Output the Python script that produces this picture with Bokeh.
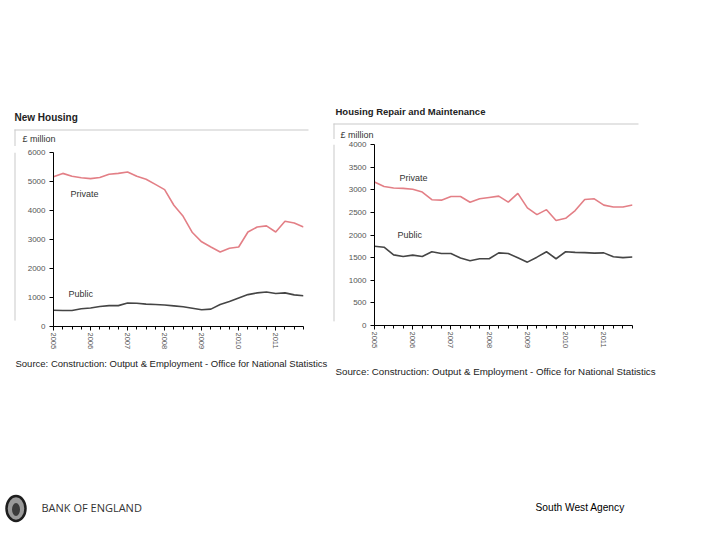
from bokeh.plotting import figure
from bokeh.layouts import row, column
from bokeh.models import Label, FixedTicker, Range1d
from bokeh.embed import file_html
from bokeh.resources import INLINE

# ---------------- data ----------------
quarters = [2005.0, 2005.25, 2005.5, 2005.75, 2006.0, 2006.25, 2006.5, 2006.75,
            2007.0, 2007.25, 2007.5, 2007.75, 2008.0, 2008.25, 2008.5, 2008.75,
            2009.0, 2009.25, 2009.5, 2009.75, 2010.0, 2010.25, 2010.5, 2010.75,
            2011.0, 2011.25, 2011.5, 2011.75]
year_ticks = [2005, 2006, 2007, 2008, 2009, 2010, 2011]

nh_private = [5160, 5280, 5180, 5130, 5100, 5140, 5250, 5280, 5330, 5180, 5080, 4900,
              4720, 4180, 3800, 3240, 2920, 2740, 2570, 2700, 2740, 3260, 3430, 3470,
              3260, 3630, 3570, 3430]
nh_public = [560, 550, 550, 610, 640, 690, 720, 720, 810, 800, 770, 760,
             740, 710, 680, 630, 580, 600, 760, 860, 980, 1100, 1160, 1190,
             1140, 1160, 1090, 1060]

rm_private = [3170, 3070, 3040, 3030, 3010, 2950, 2780, 2770, 2850, 2850, 2725, 2800,
              2830, 2860, 2725, 2920, 2600, 2450, 2560, 2320, 2370, 2540, 2785, 2800,
              2660, 2620, 2620, 2665]
rm_public = [1750, 1730, 1560, 1525, 1555, 1525, 1630, 1590, 1590, 1490, 1430, 1475,
             1475, 1605, 1590, 1495, 1400, 1510, 1630, 1475, 1630, 1615, 1610, 1600,
             1605, 1520, 1500, 1515]

nh_yticks = [0, 1000, 2000, 3000, 4000, 5000, 6000]
rm_yticks = [0, 500, 1000, 1500, 2000, 2500, 3000, 3500, 4000]

source_text = "Source: Construction: Output & Employment - Office for National Statistics"

PRIVATE_COLOR = "#e37f86"
PUBLIC_COLOR = "#454545"
BOX_COLOR = "#c9c9c9"
FONT = "Liberation Sans"


def blank(w, h):
    f = figure(width=w, height=h, x_range=Range1d(0, w), y_range=Range1d(h, 0),
               x_axis_location=None, y_axis_location=None, min_border=0,
               toolbar_location=None, output_backend="svg")
    f.outline_line_color = None
    f.grid.visible = False
    f.background_fill_color = "white"
    f.border_fill_color = "white"
    return f


def text(f, x, y, t, size="9px", bold=False, color="#333333", font=FONT):
    f.add_layout(Label(x=x, y=y, text=t, text_font=font, text_font_size=size,
                       text_font_style="bold" if bold else "normal",
                       text_color=color, text_baseline="middle", text_align="left"))


def frame_text(p, x, y, t, size="9px"):
    p.add_layout(Label(x=x, y=y, x_units="screen", y_units="screen", text=t,
                       text_font=FONT, text_font_size=size, text_color="#333333",
                       text_baseline="middle", text_align="left"))


def make_chart(width, height, b_left, b_right, b_top, b_bottom,
               ymax, yticks, private, public):
    p = figure(width=width, height=height, output_backend="svg", toolbar_location=None,
               x_range=Range1d(2005, 2011.75), y_range=Range1d(0, ymax),
               min_border_left=b_left, min_border_right=b_right,
               min_border_top=b_top, min_border_bottom=b_bottom)
    p.outline_line_color = None
    p.grid.visible = False
    p.background_fill_color = "white"
    p.border_fill_color = "white"

    p.line(quarters, private, line_color=PRIVATE_COLOR, line_width=1.6)
    p.line(quarters, public, line_color=PUBLIC_COLOR, line_width=1.6)

    p.xaxis.ticker = FixedTicker(ticks=year_ticks, minor_ticks=quarters)
    p.yaxis.ticker = FixedTicker(ticks=yticks, minor_ticks=[])
    for ax in (p.xaxis, p.yaxis):
        ax.axis_line_color = "black"
        ax.axis_line_width = 1
        ax.major_tick_line_color = "black"
        ax.minor_tick_line_color = "black"
        ax.major_tick_in = 0
        ax.major_tick_out = 4
        ax.minor_tick_in = 0
        ax.minor_tick_out = 3
        ax.major_label_text_font = FONT
        ax.major_label_text_color = "#555555"
    p.yaxis.major_label_text_font_size = "8px"
    p.xaxis.major_label_text_font_size = "7.5px"
    p.xaxis.major_label_orientation = "vertical"
    p.xaxis.major_label_standoff = 2
    p.yaxis.major_label_standoff = 4
    return p


# ---------------- left column: New Housing ----------------
l_top = blank(331, 146)
text(l_top, 14, 116.5, "New Housing", size="10px", bold=True, color="#222222")
l_top.segment(x0=[14, 14.5], y0=[129.5, 129], x1=[308, 14.5], y1=[129.5, 146],
              line_color=BOX_COLOR, line_width=1)
text(l_top, 22, 138, "£ million", size="9px")

l_strip = blank(18, 206)
l_strip.segment(x0=[14.5], y0=[0], x1=[14.5], y1=[199], line_color=BOX_COLOR, line_width=1)

l_chart = make_chart(313, 206, 35, 28, 6, 26, 6000, nh_yticks, nh_private, nh_public)
frame_text(l_chart, 17, 133, "Private")
frame_text(l_chart, 15, 33, "Public")

l_bottom = blank(331, 33)
text(l_bottom, 15, 11, source_text, size="9.5px", color="#222222")

left_col = column(l_top, row(l_strip, l_chart), l_bottom)

# ---------------- right column: Housing Repair and Maintenance ----------------
r_top = blank(381, 139)
text(r_top, 4, 110.5, "Housing Repair and Maintenance", size="9.5px", bold=True, color="#222222")
r_top.segment(x0=[2, 2.5], y0=[123.5, 123], x1=[307, 2.5], y1=[123.5, 139],
              line_color=BOX_COLOR, line_width=1)
text(r_top, 9, 134.5, "£ million", size="9px")

r_strip = blank(8, 219)
r_strip.segment(x0=[2.5], y0=[0], x1=[2.5], y1=[214], line_color=BOX_COLOR, line_width=1)

r_chart = make_chart(373, 219, 35, 80, 5, 33, 4000, rm_yticks, rm_private, rm_public)
frame_text(r_chart, 25, 148, "Private")
frame_text(r_chart, 23, 91, "Public")

r_bottom = blank(381, 27)
text(r_bottom, 4, 13, source_text, size="9.75px", color="#222222")

right_col = column(r_top, row(r_strip, r_chart), r_bottom)

# ---------------- footer ----------------
footer = blank(712, 147)
footer.ellipse(x=[15.5], y=[123], width=19, height=25, fill_color="#9a9a9a",
               line_color="#1e1e1e", line_width=2.5)
footer.ellipse(x=[15.5], y=[124], width=8, height=13, fill_color="#3c3c3c",
               line_color=None)
text(footer, 41, 122, "BANK OF ENGLAND", size="11px", color="#333333", font="Open Sans")
text(footer, 535, 122, "South West Agency", size="10.2px", color="#000000")

layout = column(row(left_col, right_col), footer)
open("out.html", "w").write(file_html(layout, INLINE))
